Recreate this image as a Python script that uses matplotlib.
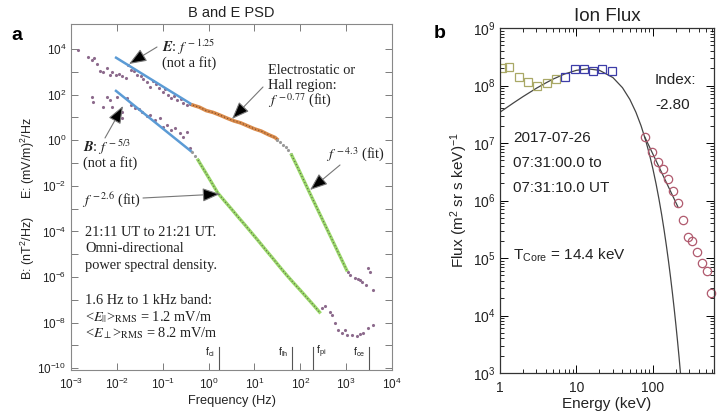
import numpy as np
import matplotlib
matplotlib.use("Agg")
import matplotlib.pyplot as plt
from matplotlib.ticker import FixedLocator, NullLocator, LogLocator, FixedFormatter, NullFormatter

plt.rcParams['font.family'] = ['Liberation Sans', 'DejaVu Sans']
plt.rcParams['mathtext.fontset'] = 'stix'

# ---------------- Panel a data (log10 values) ----------------
# E spectrum, low-frequency scatter
E_lf_logf = [-2.85, -2.63, -2.55, -2.50, -2.43, -2.37, -2.30, -2.22, -2.15, -2.10, -2.02, -1.95, -1.88,
             -1.80, -1.76, -1.70, -1.62, -1.55, -1.48, -1.42, -1.35, -1.28, -1.22, -1.15, -1.08, -1.00,
             -0.95, -0.88, -0.82, -0.75, -0.68, -0.60, -0.55, -0.48, -0.40]
E_lf_logp = [3.96, 3.65, 3.50, 3.62, 3.35, 3.05, 2.98, 3.15, 2.85, 3.00, 2.88, 2.92, 2.82,
             2.75, 3.30, 3.10, 3.05, 2.85, 2.80, 2.70, 2.55, 2.35, 2.60, 2.45, 2.30, 2.10,
             2.25, 2.00, 1.85, 1.95, 1.75, 1.80, 1.65, 1.55, 1.60]
# E spectrum, electrostatic / Hall range
E_mid_logf = [-0.34, -0.20, -0.05, 0.10, 0.25, 0.40, 0.55, 0.70, 0.85, 1.00, 1.15, 1.30, 1.45, 1.49]
E_mid_logp = [1.54, 1.45, 1.30, 1.22, 1.10, 0.97, 0.85, 0.76, 0.63, 0.50, 0.40, 0.25, 0.12, 0.05]
# E spectrum, knee
E_knee_logf = [1.49, 1.56, 1.62, 1.68, 1.73, 1.79]
E_knee_logp = [0.02, -0.08, -0.21, -0.30, -0.43, -0.61]
# E spectrum, steep range
E_hi_logf = [1.81, 1.95, 2.10, 2.25, 2.40, 2.55, 2.70, 2.85, 3.01]
E_hi_logp = [-0.65, -1.22, -1.86, -2.50, -3.13, -3.76, -4.39, -5.02, -5.69]
# E spectrum, tail
E_tail_logf = [3.05, 3.08, 3.19, 3.25, 3.30, 3.34, 3.43, 3.47, 3.51, 3.58]
E_tail_logp = [-5.80, -5.91, -6.04, -6.10, -6.13, -6.22, -6.35, -5.61, -5.78, -6.57]

# B spectrum, low-frequency scatter
B_lf_logf = [-2.54, -2.52, -2.30, -2.22, -2.15, -2.11, -2.00, -1.95, -1.89, -1.89, -1.78, -1.70, -1.61,
             -1.52, -1.45, -1.35, -1.28, -1.17, -1.06, -1.00, -0.91, -0.82, -0.73, -0.63, -0.55, -0.47, -0.40]
B_lf_logp = [1.89, 1.68, 1.46, 1.89, 1.76, 1.46, 1.89, 1.30, 1.24, 0.97, 1.85, 1.55, 1.41,
             1.35, 1.24, 1.05, 1.11, 0.89, 0.97, 0.60, 0.67, 0.45, 0.54, 0.30, 0.15, 0.36, -0.35]
# B spectrum, steep range
B_mid_logf = [-0.36, -0.30, -0.23, -0.10, 0.05, 0.20, 0.35, 0.50, 0.65, 0.80, 0.95, 1.10, 1.25, 1.40,
              1.55, 1.70, 1.85, 2.00, 2.15, 2.30, 2.42]
B_mid_logp = [-0.52, -0.69, -0.87, -1.30, -1.80, -2.31, -2.67, -3.02, -3.38, -3.73, -4.09, -4.45, -4.82,
              -5.18, -5.55, -5.91, -6.25, -6.58, -6.92, -7.26, -7.54]
# B spectrum, tail
B_tail_logf = [2.47, 2.53, 2.64, 2.69, 2.75, 2.82, 2.90, 2.97, 3.01, 3.12, 3.23, 3.30, 3.36, 3.47, 3.58]
B_tail_logp = [-7.36, -7.27, -7.54, -7.67, -8.02, -8.32, -8.46, -8.32, -8.54, -8.54, -8.59, -8.50,
               -8.46, -8.24, -8.11]

# Reference power laws (log10 f, log10 P at both ends)
E_ref_logf = [-2.04, -0.34]
E_ref_logp = [3.65, 1.54]
B_ref_logf = [-2.04, -0.36]
B_ref_logp = [2.20, -0.52]

# Characteristic frequencies (log10 Hz)
char_names = ['ci', 'lh', 'pi', 'ce']
char_logf = [0.224, 1.815, 2.272, 3.49]

# ---------------- Panel b data ----------------
olive_E = [1.06, 1.31, 1.77, 2.32, 3.05, 4.11, 5.40]
olive_F = [2.0e8, 2.1e8, 1.4e8, 1.15e8, 9.8e7, 1.1e8, 1.3e8]
blue_E = [7.08, 9.55, 12.6, 16.4, 21.5, 28.9]
blue_F = [1.4e8, 1.95e8, 1.95e8, 1.78e8, 1.95e8, 1.78e8]
red_E = [78.6, 97, 116, 135, 157, 183, 212, 247, 287, 324, 376, 437, 508, 573]
red_F = [1.26e7, 6.9e6, 4.6e6, 3.6e6, 2.4e6, 1.48e6, 8.9e5, 4.5e5, 2.3e5, 2.0e5, 1.26e5, 8.1e4, 5.9e4, 2.5e4]
fit_E = [78.6, 212]
fit_F = [1.26e7, 7.8e5]
core_E = [1, 1.5, 2, 3, 4, 5, 7, 10, 14, 20, 30, 40, 50, 60, 70, 80, 90, 100, 110, 120, 130, 140,
          150, 160, 170, 180, 190, 200, 210, 220, 240]
core_logF = [7.536, 7.697, 7.807, 7.953, 8.047, 8.114, 8.200, 8.264, 8.290, 8.264, 8.138, 7.962, 7.757,
             7.534, 7.300, 7.056, 6.806, 6.550, 6.290, 6.026, 5.760, 5.490, 5.218, 4.945, 4.670,
             4.393, 4.115, 3.835, 3.555, 3.273, 2.708]

W, H = 718, 416
fig = plt.figure(figsize=(W / 100, H / 100), dpi=100)


def fp(x, y):
    return (x / W, 1 - y / H)


serif = ['Liberation Serif', 'DejaVu Serif']
tcol = '#222222'

# ================= Panel a =================
ax1 = fig.add_axes([71 / W, 1 - 370 / H, 321 / W, 346 / H])
ax1.set_xscale('log')
ax1.set_yscale('log')
ax1.set_xlim(1e-3, 1e4)
ax1.set_ylim(10 ** -10.08, 10 ** 5.1)

p10 = lambda a: 10 ** np.asarray(a, dtype=float)
dot_c = '#8c6a8c'
gray_c = '#999999'
dark_dot = '#5a6a4a'

# scatter / data
ax1.plot(p10(E_lf_logf), p10(E_lf_logp), ls='none', marker='.', ms=2.5, color=dot_c)
ax1.plot(p10(B_lf_logf), p10(B_lf_logp), ls='none', marker='.', ms=2.5, color=dot_c)
# reference lines
ax1.plot(p10(E_ref_logf), p10(E_ref_logp), color='#5b9bd5', lw=1.8, solid_capstyle='butt')
ax1.plot(p10(B_ref_logf), p10(B_ref_logp), color='#5b9bd5', lw=1.8, solid_capstyle='butt')
# highlighted fit ranges
ax1.plot(p10(E_mid_logf), p10(E_mid_logp), color='#d98a4a', lw=2.6)
ax1.plot(p10(E_mid_logf), p10(E_mid_logp), color='#7a4a2a', lw=0.8, ls=(0, (1, 2)))
ax1.plot(p10(E_knee_logf), p10(E_knee_logp), ls='none', marker='.', ms=2.5, color=gray_c)
ax1.plot(p10(E_hi_logf), p10(E_hi_logp), color='#9bd86a', lw=2.4)
ax1.plot(p10(E_hi_logf), p10(E_hi_logp), color=dark_dot, lw=0.8, ls=(0, (1, 2)))
ax1.plot(p10(B_mid_logf[:3]), p10(B_mid_logp[:3]), ls='none', marker='.', ms=2.5, color=gray_c)
ax1.plot(p10(B_mid_logf[2:]), p10(B_mid_logp[2:]), color='#9bd86a', lw=2.4)
ax1.plot(p10(B_mid_logf[2:]), p10(B_mid_logp[2:]), color=dark_dot, lw=0.8, ls=(0, (1, 2)))
ax1.plot(p10(E_tail_logf), p10(E_tail_logp), ls='none', marker='.', ms=2.5, color=dot_c)
ax1.plot(p10(B_tail_logf), p10(B_tail_logp), ls='none', marker='.', ms=2.5, color=dot_c)

# characteristic frequency markers
for name, lf in zip(char_names, char_logf):
    ax1.plot([10 ** lf, 10 ** lf], [10 ** -10.08, 10 ** -9.07], color='#555555', lw=0.8)
    if name == 'pi':
        ax1.text(10 ** (lf + 0.08), 10 ** -9.29, r'f$_{\mathdefault{%s}}$' % name, fontsize=7.5,
                 ha='left', va='center', color=tcol)
    else:
        ax1.text(10 ** (lf - 0.08), 10 ** -9.29, r'f$_{\mathdefault{%s}}$' % name, fontsize=7.5,
                 ha='right', va='center', color=tcol)

ax1.set_xticks(10.0 ** np.arange(-3, 5))
ax1.xaxis.set_minor_locator(NullLocator())
yexp = np.arange(-10, 5)
ax1.yaxis.set_major_locator(FixedLocator(10.0 ** yexp))
ax1.yaxis.set_major_formatter(FixedFormatter(
    [r'$\mathdefault{10^{%d}}$' % e if e % 2 == 0 else '' for e in yexp]))
ax1.yaxis.set_minor_locator(NullLocator())
ax1.tick_params(which='both', direction='in', top=True, right=True, length=5, width=0.6,
                color='#666666', labelsize=8.5, labelcolor=tcol)
ax1.tick_params(axis='x', pad=5)
for s in ax1.spines.values():
    s.set_color('#888888')
    s.set_linewidth(0.8)
ax1.set_xlabel('Frequency (Hz)', fontsize=9.2, color=tcol, labelpad=2)
ax1.set_title('B and E PSD', fontsize=10.5, color=tcol, pad=5)

fig.text(*fp(28, 158), r'E: (mV/m)$^{\mathdefault{2}}$/Hz', rotation=90, ha='center', va='center',
         fontsize=9, color=tcol)
fig.text(*fp(28, 248), r'B: (nT$^{\mathdefault{2}}$/Hz)', rotation=90, ha='center', va='center',
         fontsize=9, color=tcol)

# annotations (serif)
fs = 10.4
arrow_kw = dict(arrowstyle='-|>,head_length=0.9,head_width=0.35', fc='black', ec='#777777',
                lw=0.8, shrinkA=0, shrinkB=0, mutation_scale=12)


def ann(tail, tip):
    fig.add_artist(matplotlib.patches.FancyArrowPatch(fp(*tail), fp(*tip), transform=fig.transFigure,
                                                      **arrow_kw))


fig.text(*fp(162, 47), r'$\boldsymbol{E}$: $f^{\,-1.25}$', family=serif, fontsize=fs, va='center', color=tcol)
fig.text(*fp(162, 63), '(not a fit)', family=serif, fontsize=fs, va='center', color=tcol)
ann((157, 47), (129, 64))

fig.text(*fp(268, 70), 'Electrostatic or', family=serif, fontsize=fs, va='center', color=tcol)
fig.text(*fp(268, 86), 'Hall region:', family=serif, fontsize=fs, va='center', color=tcol)
fig.text(*fp(268, 101), r'$f^{\,-0.77}$ (fit)', family=serif, fontsize=fs, va='center', color=tcol)
ann((263, 87), (232, 119))

fig.text(*fp(83, 147), r'$\boldsymbol{B}$: $f^{\,-5/3}$', family=serif, fontsize=fs, va='center', color=tcol)
fig.text(*fp(83, 163), '(not a fit)', family=serif, fontsize=fs, va='center', color=tcol)
ann((105, 138), (123, 106))

fig.text(*fp(82, 200), r'$f^{\,-2.6}$ (fit)', family=serif, fontsize=fs, va='center', color=tcol)
ann((143, 198), (220, 194))

fig.text(*fp(326, 155), r'$f^{\,-4.3}$ (fit)', family=serif, fontsize=fs, va='center', color=tcol)
ann((340, 165), (310, 190))

for yy, s in [(232, '21:11 UT to 21:21 UT.'), (248, 'Omni-directional'),
              (265, 'power spectral density.'), (300, '1.6 Hz to 1 kHz band:'),
              (317, r'<$E_{||}$>$_{\rm RMS}$ = 1.2 mV/m'), (333, r'<$E_{\perp}$>$_{\rm RMS}$ = 8.2 mV/m')]:
    fig.text(*fp(85, yy), s, family=serif, fontsize=fs, va='center', color=tcol)

fig.text(*fp(17, 35), 'a', fontsize=14, fontweight='bold', ha='center', va='center', color='black')

# ================= Panel b =================
ax2 = fig.add_axes([500 / W, 1 - 373 / H, 214 / W, 345 / H])
ax2.set_xscale('log')
ax2.set_yscale('log')
ax2.set_xlim(1, 630)
ax2.set_ylim(1e3, 1e9)

ax2.plot(core_E, 10 ** np.asarray(core_logF), color='#444444', lw=0.9)
ax2.plot(fit_E, fit_F, color='#444444', lw=0.9)
ax2.plot(olive_E, olive_F, ls='none', marker='s', ms=5.5, mfc='none', mec='#a9a866', mew=0.9)
ax2.plot(blue_E, blue_F, ls='none', marker='s', ms=5.5, mfc='none', mec='#3d3da8', mew=0.9)
ax2.plot(red_E, red_F, ls='none', marker='o', ms=6, mfc='none', mec='#b05a6e', mew=0.9, clip_on=False)

ax2.set_xticks([1, 10, 100])
ax2.set_xticklabels(['1', '10', '100'])
ax2.xaxis.set_minor_locator(LogLocator(base=10, subs=np.arange(2, 10), numticks=20))
ax2.xaxis.set_minor_formatter(NullFormatter())
ax2.yaxis.set_major_locator(FixedLocator(10.0 ** np.arange(3, 10)))
ax2.yaxis.set_major_formatter(FixedFormatter([r'$\mathdefault{10^{%d}}$' % e for e in range(3, 10)]))
ax2.yaxis.set_minor_locator(LogLocator(base=10, subs=np.arange(2, 10), numticks=20))
ax2.yaxis.set_minor_formatter(NullFormatter())
ax2.tick_params(which='major', direction='in', top=True, right=True, length=6, width=0.7,
                labelsize=10, labelcolor=tcol)
ax2.tick_params(which='minor', direction='in', top=True, right=True, length=3, width=0.6)
ax2.tick_params(axis='x', pad=6)
for s in ax2.spines.values():
    s.set_color('#333333')
    s.set_linewidth(0.9)
ax2.set_xlabel('Energy (keV)', fontsize=11, color=tcol, labelpad=1)
ax2.set_ylabel(r'Flux (m$^{\mathdefault{2}}$ sr s keV)$^{\mathdefault{-1}}$', fontsize=11, color=tcol,
               labelpad=2)
ax2.set_title('Ion Flux', fontsize=13.5, color=tcol, pad=5)

fig.text(*fp(655, 80), 'Index:', fontsize=11, va='center', color=tcol)
fig.text(*fp(655, 105), '-2.80', fontsize=11, va='center', color=tcol)
fig.text(*fp(513, 138), '2017-07-26', fontsize=11, va='center', color=tcol)
fig.text(*fp(513, 163), '07:31:00.0 to', fontsize=11, va='center', color=tcol)
fig.text(*fp(513, 188), '07:31:10.0 UT', fontsize=11, va='center', color=tcol)
fig.text(*fp(513, 255), r'T$_{\mathdefault{Core}}$ = 14.4 keV', fontsize=11, va='center', color=tcol)

fig.text(*fp(440, 34), 'b', fontsize=14, fontweight='bold', ha='center', va='center', color='black')

fig.savefig('out.png', dpi=100)
